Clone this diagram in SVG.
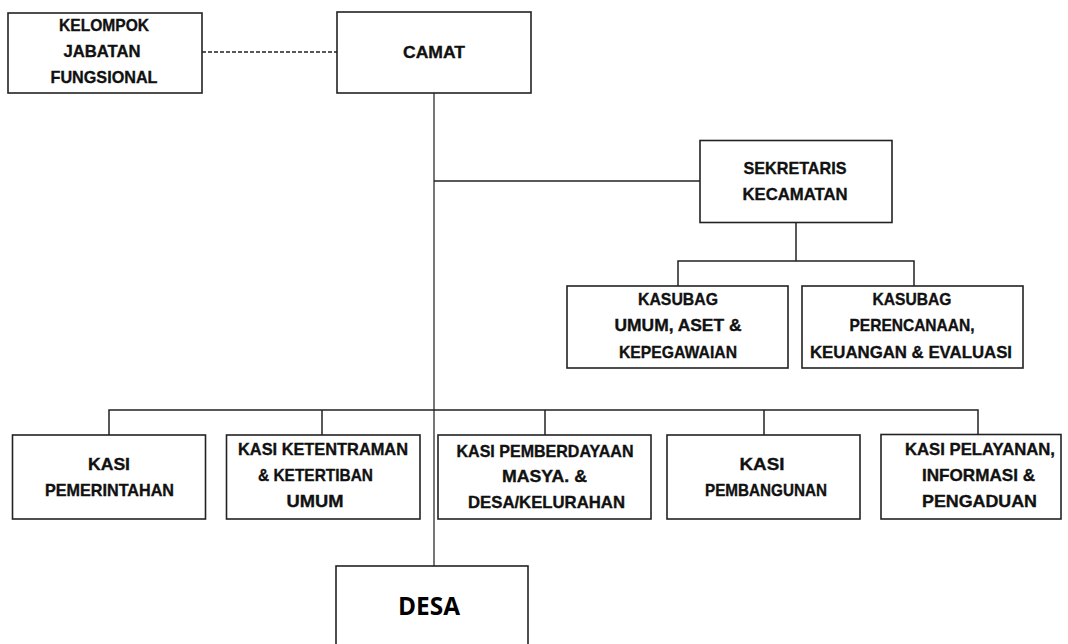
<svg xmlns="http://www.w3.org/2000/svg" width="1068" height="644" viewBox="0 0 1068 644">
<defs>
<style>
.box{fill:#fff;stroke:#222;stroke-width:1.6}
.ln{fill:none;stroke:#222;stroke-width:1.5}
.main{fill:none;stroke:#777;stroke-width:2}
.dash{fill:none;stroke:#222;stroke-width:1.5;stroke-dasharray:4 2}
.t{font-family:"Liberation Sans",Arial,sans-serif;font-weight:bold;font-size:17px;fill:#111;stroke:#111;stroke-width:0.35;text-anchor:middle}
.big{font-family:"Open Sans","Noto Sans",sans-serif;font-weight:bold;font-size:25px;fill:#000;text-anchor:middle}
</style>
</defs>
<rect width="1068" height="644" fill="#fff"/>
<g id="connectors">
<line class="dash" x1="202" y1="52" x2="337" y2="52"/>
<line class="main" x1="434" y1="93" x2="434" y2="566"/>
<line class="ln" x1="434" y1="181" x2="700" y2="181"/>
<line class="ln" x1="796" y1="223" x2="796" y2="261"/>
<polyline class="ln" points="678,286 678,261 914,261 914,286"/>
<polyline class="ln" points="109,435 109,410 978,410 978,435"/>
<line class="ln" x1="322" y1="410" x2="322" y2="435"/>
<line class="ln" x1="545" y1="410" x2="545" y2="435"/>
<line class="ln" x1="764" y1="410" x2="764" y2="435"/>
</g>
<g id="kelompok">
<rect class="box" x="8" y="13" width="194" height="80"/>
<text class="t" x="104" y="31" textLength="90" lengthAdjust="spacingAndGlyphs">KELOMPOK</text>
<text class="t" x="102" y="57" textLength="77" lengthAdjust="spacingAndGlyphs">JABATAN</text>
<text class="t" x="104" y="83" textLength="107" lengthAdjust="spacingAndGlyphs">FUNGSIONAL</text>
</g>
<g id="camat">
<rect class="box" x="337" y="12" width="194" height="81"/>
<text class="t" x="434" y="58" textLength="62" lengthAdjust="spacingAndGlyphs">CAMAT</text>
</g>
<g id="sekretaris">
<rect class="box" x="700" y="140.5" width="192" height="82"/>
<text class="t" x="795" y="173.5" textLength="103" lengthAdjust="spacingAndGlyphs">SEKRETARIS</text>
<text class="t" x="795" y="200" textLength="105" lengthAdjust="spacingAndGlyphs">KECAMATAN</text>
</g>
<g id="kasubag-umum">
<rect class="box" x="567" y="286" width="221" height="82"/>
<text class="t" x="678" y="305" textLength="80" lengthAdjust="spacingAndGlyphs">KASUBAG</text>
<text class="t" x="678" y="331" textLength="127" lengthAdjust="spacingAndGlyphs">UMUM, ASET &amp;</text>
<text class="t" x="678" y="358" textLength="118" lengthAdjust="spacingAndGlyphs">KEPEGAWAIAN</text>
</g>
<g id="kasubag-perencanaan">
<rect class="box" x="802" y="286" width="221" height="82"/>
<text class="t" x="912" y="305" textLength="79" lengthAdjust="spacingAndGlyphs">KASUBAG</text>
<text class="t" x="912" y="331" textLength="125" lengthAdjust="spacingAndGlyphs">PERENCANAAN,</text>
<text class="t" x="911" y="358" textLength="202" lengthAdjust="spacingAndGlyphs">KEUANGAN &amp; EVALUASI</text>
</g>
<g id="kasi-pemerintahan">
<rect class="box" x="12.5" y="435" width="193" height="84"/>
<text class="t" x="109" y="470" textLength="42" lengthAdjust="spacingAndGlyphs">KASI</text>
<text class="t" x="109.5" y="496" textLength="129" lengthAdjust="spacingAndGlyphs">PEMERINTAHAN</text>
</g>
<g id="kasi-ketentraman">
<rect class="box" x="226.5" y="435" width="193.5" height="84"/>
<text class="t" x="323" y="455" textLength="170" lengthAdjust="spacingAndGlyphs">KASI KETENTRAMAN</text>
<text class="t" x="315.5" y="481" textLength="115" lengthAdjust="spacingAndGlyphs">&amp; KETERTIBAN</text>
<text class="t" x="315" y="507" textLength="57" lengthAdjust="spacingAndGlyphs">UMUM</text>
</g>
<g id="kasi-pemberdayaan">
<rect class="box" x="438" y="435" width="213" height="84"/>
<text class="t" x="545" y="456.5" textLength="177" lengthAdjust="spacingAndGlyphs">KASI PEMBERDAYAAN</text>
<text class="t" x="544.5" y="482" textLength="85" lengthAdjust="spacingAndGlyphs">MASYA. &amp;</text>
<text class="t" x="546.5" y="508" textLength="157" lengthAdjust="spacingAndGlyphs">DESA/KELURAHAN</text>
</g>
<g id="kasi-pembangunan">
<rect class="box" x="667" y="435" width="193" height="84"/>
<text class="t" x="762" y="470" textLength="45" lengthAdjust="spacingAndGlyphs">KASI</text>
<text class="t" x="766" y="496" textLength="122" lengthAdjust="spacingAndGlyphs">PEMBANGUNAN</text>
</g>
<g id="kasi-pelayanan">
<rect class="box" x="881" y="434.5" width="180" height="84.5"/>
<text class="t" x="980" y="455" textLength="150" lengthAdjust="spacingAndGlyphs">KASI PELAYANAN,</text>
<text class="t" x="978.5" y="481" textLength="113" lengthAdjust="spacingAndGlyphs">INFORMASI &amp;</text>
<text class="t" x="979.5" y="507" textLength="115" lengthAdjust="spacingAndGlyphs">PENGADUAN</text>
</g>
<g id="desa">
<rect class="box" x="336" y="566" width="192" height="90"/>
<text class="big" x="429" y="615" textLength="62" lengthAdjust="spacingAndGlyphs">DESA</text>
</g>
</svg>
